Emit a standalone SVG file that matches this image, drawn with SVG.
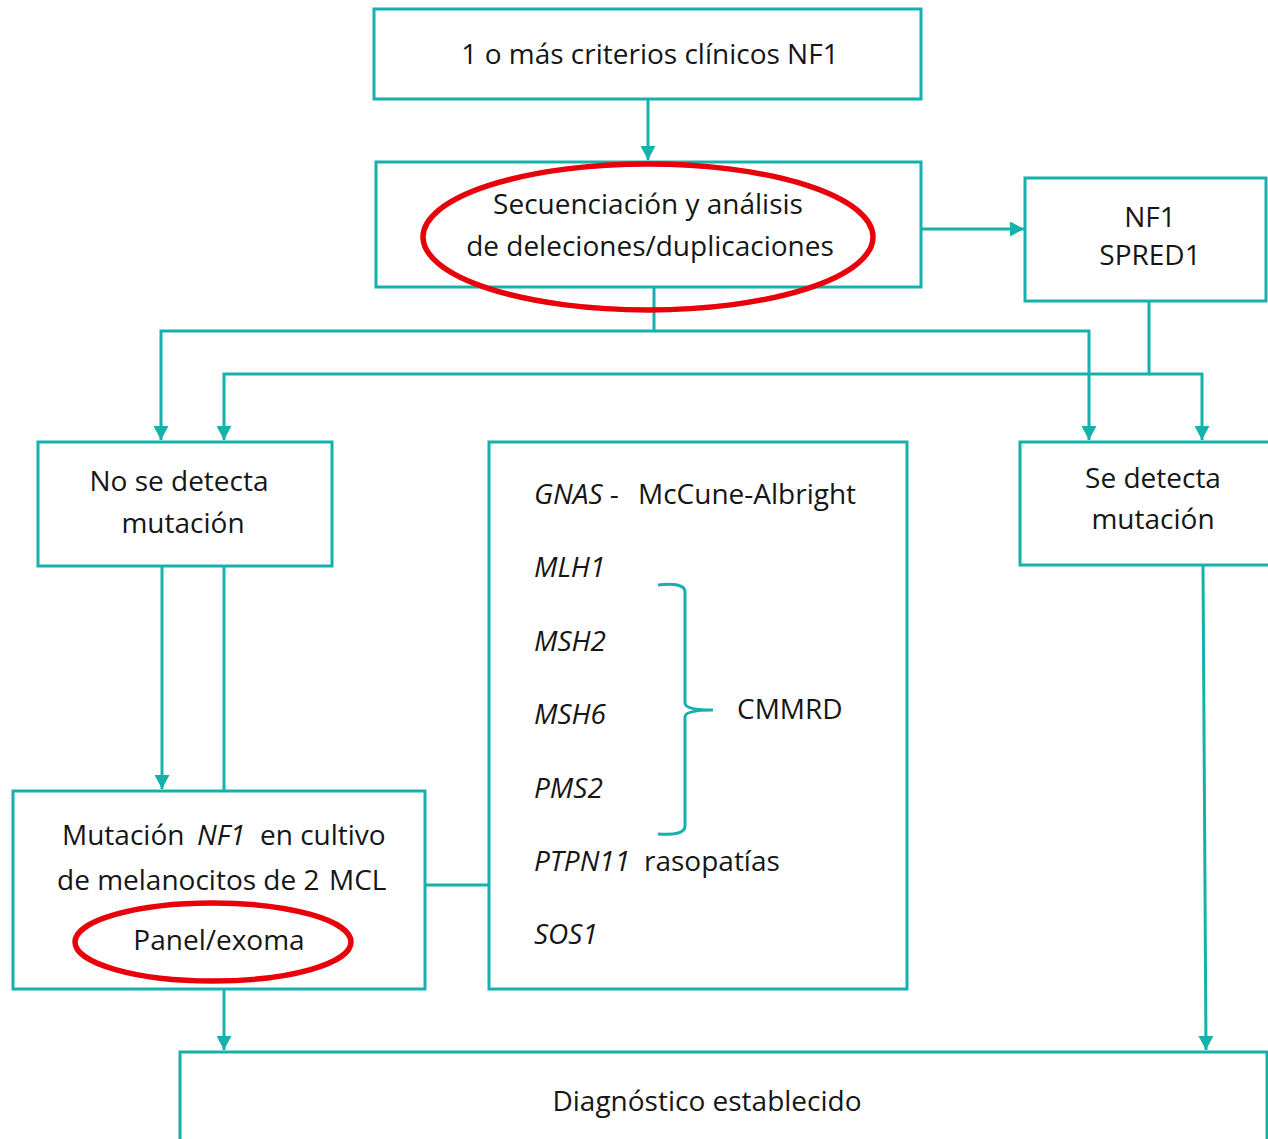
<svg xmlns="http://www.w3.org/2000/svg" width="1268" height="1139" viewBox="0 0 1268 1139">
  <style>
    .box { fill: #ffffff; stroke: #17b1ad; stroke-width: 3; }
    .wire { fill: none; stroke: #17b1ad; stroke-width: 3; }
    .ring { fill: none; stroke: #e8000b; stroke-width: 5.5; }
    text { font-family: "Open Sans", "Liberation Sans", sans-serif; font-size: 28px; fill: #161616; }
    .c { text-anchor: middle; }
    .it { font-style: italic; }
  </style>
  <defs>
    <marker id="head" markerUnits="userSpaceOnUse" markerWidth="15" markerHeight="15" refX="14" refY="7.5" orient="auto">
      <path d="M0,0 L14,7.5 L0,15 Z" fill="#17b1ad"/>
    </marker>
  </defs>
  <rect width="1268" height="1139" fill="#ffffff"/>

  <!-- connectors -->
  <g id="connectors">
    <line class="wire" x1="648" y1="99" x2="648" y2="160" marker-end="url(#head)"/>
    <line class="wire" x1="921" y1="229" x2="1024" y2="229" marker-end="url(#head)"/>
    <polyline class="wire" points="654,287 654,331 161,331 161,440" marker-end="url(#head)"/>
    <polyline class="wire" points="654,331 1089,331 1089,440" marker-end="url(#head)"/>
    <polyline class="wire" points="1149,301 1149,374 224,374 224,440" marker-end="url(#head)"/>
    <polyline class="wire" points="1149,374 1202,374 1202,440" marker-end="url(#head)"/>
    <line class="wire" x1="162" y1="566" x2="162" y2="789" marker-end="url(#head)"/>
    <line class="wire" x1="224" y1="566" x2="224" y2="790"/>
    <line class="wire" x1="425" y1="885" x2="489" y2="885"/>
    <line class="wire" x1="224" y1="989" x2="224" y2="1050" marker-end="url(#head)"/>
    <line class="wire" x1="1203" y1="565" x2="1206" y2="1050" marker-end="url(#head)"/>
  </g>

  <g id="criterios">
    <rect class="box" x="374" y="9" width="547" height="90"/>
    <text class="c" x="650" y="64">1 o más criterios clínicos NF1</text>
  </g>

  <g id="secuenciacion">
    <rect class="box" x="376" y="162" width="545" height="125"/>
    <text class="c" x="648" y="214">Secuenciación y análisis</text>
    <text class="c" x="650" y="256">de deleciones/duplicaciones</text>
    <ellipse class="ring" cx="648" cy="237" rx="225" ry="73"/>
  </g>

  <g id="genes-nf1-spred1">
    <rect class="box" x="1025" y="178" width="241" height="123"/>
    <text class="c" x="1150" y="227">NF1</text>
    <text class="c" x="1150" y="265">SPRED1</text>
  </g>

  <g id="no-detecta">
    <rect class="box" x="38" y="442" width="294" height="124"/>
    <text class="c" x="179" y="491">No se detecta</text>
    <text class="c" x="183" y="533">mutación</text>
  </g>

  <g id="se-detecta">
    <rect class="box" x="1020" y="442" width="260" height="123"/>
    <text class="c" x="1153" y="488">Se detecta</text>
    <text class="c" x="1153" y="529">mutación</text>
  </g>

  <g id="diferencial">
    <rect class="box" x="489" y="442" width="418" height="547"/>
    <text x="534" y="504"><tspan class="it">GNAS</tspan> -<tspan x="638">McCune-Albright</tspan></text>
    <text class="it" x="534" y="577">MLH1</text>
    <text class="it" x="534" y="651">MSH2</text>
    <text class="it" x="534" y="724">MSH6</text>
    <text class="it" x="534" y="798">PMS2</text>
    <text x="534" y="871"><tspan class="it">PTPN11</tspan><tspan x="644">rasopatías</tspan></text>
    <text class="it" x="534" y="944">SOS1</text>
    <path class="wire" d="M658,585 Q685,582 685,592 L685,703 Q685,710 713,710 M685,717 Q685,710 713,710 M685,717 L685,826 Q685,836 658,834"/>
    <text x="737" y="719">CMMRD</text>
  </g>

  <g id="cultivo">
    <rect class="box" x="13" y="791" width="412" height="198"/>
    <text x="62" y="845">Mutación<tspan class="it" x="197">NF1</tspan><tspan x="260">en cultivo</tspan></text>
    <text x="57" y="890">de melanocitos de 2<tspan x="329">MCL</tspan></text>
    <text class="c" x="219" y="950">Panel/exoma</text>
    <ellipse class="ring" cx="213" cy="942" rx="138" ry="39"/>
  </g>

  <g id="diagnostico">
    <rect class="box" x="180" y="1052" width="1087" height="120"/>
    <text class="c" x="707" y="1111">Diagnóstico establecido</text>
  </g>
</svg>
